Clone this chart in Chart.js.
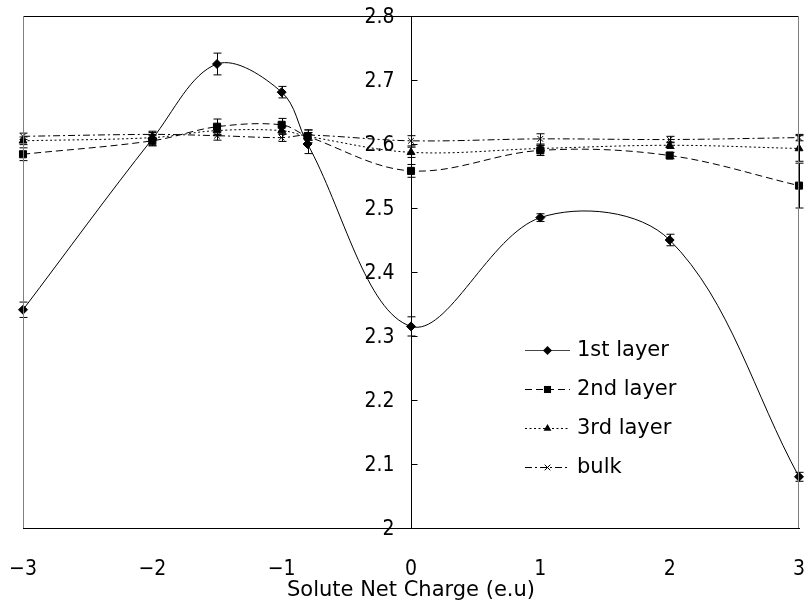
<!DOCTYPE html>
<html><head><meta charset="utf-8">
<script src="https://cdn.jsdelivr.net/npm/chart.js@4"></script>
<style>html,body{margin:0;padding:0;background:#fff}</style>
</head><body>
<canvas id="c" width="805" height="603"></canvas>
<script>
// ---- data ----
const xValues = [-3, -2, -1.5, -1, -0.8, 0, 1, 2, 3];
const seriesNames = ['1st layer', '2nd layer', '3rd layer', 'bulk'];
const layer1 = [2.341, 2.608, 2.725, 2.681, 2.600, 2.315, 2.485, 2.450, 2.080];
const layer1Err = [0.012, 0.010, 0.017, 0.009, 0.015, 0.015, 0.006, 0.009, 0.007];
const layer2 = [2.584, 2.605, 2.627, 2.630, 2.612, 2.558, 2.590, 2.582, 2.535];
const layer2Err = [0.010, 0.008, 0.012, 0.010, 0.010, 0.010, 0.008, 0.005, 0.035];
const layer3 = [2.605, 2.610, 2.621, 2.621, 2.612, 2.587, 2.593, 2.598, 2.593];
const layer3Err = [0.006, 0.005, 0.008, 0.006, 0.006, 0.008, 0.005, 0.005, 0.020];
const bulk = [2.612, 2.615, 2.613, 2.610, 2.614, 2.605, 2.608, 2.607, 2.610];
const bulkErr = [0.005, 0.005, 0.007, 0.006, 0.008, 0.008, 0.008, 0.005, 0.005];
const xTickValues = [-3, -2, -1, 0, 1, 2, 3];
const xTickLabels = ['\u22123', '\u22122', '\u22121', '0', '1', '2', '3'];
const yTickValues = [2, 2.1, 2.2, 2.3, 2.4, 2.5, 2.6, 2.7, 2.8];
const yTickLabels = ['2', '2.1', '2.2', '2.3', '2.4', '2.5', '2.6', '2.7', '2.8'];
const xTitle = 'Solute Net Charge (e.u)';

// ---- styles ----
const tickFamily = "'Liberation Sans Narrow', 'DejaVu Sans Condensed', 'Liberation Sans', sans-serif";
const tickFont = {family: tickFamily, size: 21, lineHeight: 1};
const textFamily = "'DejaVu Sans', sans-serif";
const styles = [
  {dash: [], point: 'rectRot', r: 4.5},
  {dash: [7, 4], point: 'rect', r: 5},
  {dash: [2, 2.5], point: 'triangle', r: 4.5},
  {dash: [7, 3, 2, 3], point: 'crossRot', r: 4}
];
const values = [layer1, layer2, layer3, bulk];
const errors = [layer1Err, layer2Err, layer3Err, bulkErr];

const datasets = values.map((vals, i) => ({
  label: seriesNames[i],
  data: xValues.map((x, k) => ({x: x, y: vals[k]})),
  borderColor: '#000', backgroundColor: '#000',
  borderWidth: 1, borderDash: styles[i].dash,
  pointStyle: styles[i].point, pointRadius: styles[i].r,
  pointBorderWidth: 1, pointBorderColor: '#000', pointBackgroundColor: '#000',
  tension: 0.35, fill: false, clip: false
}));

function drawMarker(ctx, style, x, y, r) {
  ctx.save();
  ctx.setLineDash([]);
  ctx.fillStyle = '#000'; ctx.strokeStyle = '#000'; ctx.lineWidth = 1;
  ctx.beginPath();
  if (style === 'rectRot') {
    ctx.moveTo(x, y - r); ctx.lineTo(x + r, y); ctx.lineTo(x, y + r); ctx.lineTo(x - r, y); ctx.closePath(); ctx.fill();
  } else if (style === 'rect') {
    const s = r * Math.SQRT1_2; ctx.rect(x - s, y - s, 2 * s, 2 * s); ctx.fill();
  } else if (style === 'triangle') {
    ctx.moveTo(x, y - r); ctx.lineTo(x + r * 0.87, y + r * 0.5); ctx.lineTo(x - r * 0.87, y + r * 0.5); ctx.closePath(); ctx.fill();
  } else {
    const s = r * Math.SQRT1_2;
    ctx.moveTo(x - s, y - s); ctx.lineTo(x + s, y + s); ctx.moveTo(x + s, y - s); ctx.lineTo(x - s, y + s); ctx.stroke();
  }
  ctx.restore();
}

const extras = {
  id: 'extras',
  afterDatasetsDraw(chart) {
    const {ctx, scales: {x, y}} = chart;
    ctx.save();
    ctx.strokeStyle = '#000'; ctx.lineWidth = 1; ctx.setLineDash([]);
    values.forEach((vals, i) => {
      vals.forEach((v, k) => {
        const px = Math.round(x.getPixelForValue(xValues[k])) + 0.5;
        const y1 = y.getPixelForValue(v + errors[i][k]);
        const y2 = y.getPixelForValue(v - errors[i][k]);
        ctx.beginPath();
        ctx.moveTo(px, y1); ctx.lineTo(px, y2);
        ctx.moveTo(px - 4, y1); ctx.lineTo(px + 4, y1);
        ctx.moveTo(px - 4, y2); ctx.lineTo(px + 4, y2);
        ctx.stroke();
      });
    });
    ctx.restore();
  },
  afterDraw(chart) {
    const {ctx, chartArea: a, scales: {x, y}} = chart;
    ctx.save();
    ctx.setLineDash([]); ctx.lineWidth = 1;
    // plot frame
    ctx.strokeStyle = '#000';
    ctx.beginPath(); ctx.moveTo(a.left, Math.round(a.top) + 0.5); ctx.lineTo(a.right, Math.round(a.top) + 0.5); ctx.stroke();
    ctx.strokeStyle = '#808080';
    ctx.beginPath();
    ctx.moveTo(Math.round(a.left) + 0.5, a.top); ctx.lineTo(Math.round(a.left) + 0.5, a.bottom);
    ctx.moveTo(Math.round(a.right) - 0.5, a.top); ctx.lineTo(Math.round(a.right) - 0.5, a.bottom);
    ctx.stroke();
    // y tick marks (right of the axis) and labels (left of the axis)
    ctx.strokeStyle = '#000';
    const ax = Math.round(x.getPixelForValue(0)) + 0.5;
    ctx.beginPath();
    yTickValues.forEach(v => {
      const py = Math.round(y.getPixelForValue(v)) + 0.5;
      ctx.moveTo(ax, py); ctx.lineTo(ax + 6, py);
    });
    ctx.stroke();
    ctx.font = '21px ' + tickFamily;
    ctx.textAlign = 'right'; ctx.textBaseline = 'middle'; ctx.fillStyle = '#000';
    yTickValues.forEach((v, i) => {
      ctx.fillText(yTickLabels[i], ax - 17, y.getPixelForValue(v) + 2);
    });
    // legend
    const lx0 = 525, lx1 = 570, ly0 = 350, dy = 39;
    ctx.font = '21px ' + textFamily;
    ctx.textAlign = 'left'; ctx.textBaseline = 'middle';
    seriesNames.forEach((name, i) => {
      const ly = Math.round(ly0 + i * dy) + 0.5;
      ctx.save();
      ctx.strokeStyle = i === 0 ? '#444' : '#000';
      ctx.setLineDash(styles[i].dash);
      ctx.beginPath(); ctx.moveTo(lx0, ly); ctx.lineTo(lx1, ly); ctx.stroke();
      ctx.restore();
      drawMarker(ctx, styles[i].point, (lx0 + lx1) / 2, ly, styles[i].r);
      ctx.fillText(name, lx1 + 7, ly);
    });
    ctx.restore();
  }
};

new Chart(document.getElementById('c'), {
  type: 'line',
  data: {datasets: datasets},
  options: {
    responsive: false, animation: false,
    layout: {padding: {left: 23, right: 6, top: 16, bottom: 0}},
    plugins: {legend: {display: false}, tooltip: {enabled: false}},
    scales: {
      x: {
        type: 'linear', min: -3, max: 3, position: 'bottom',
        afterBuildTicks: axis => { axis.ticks = xTickValues.map(v => ({value: v})); },
        afterFit: axis => { axis.height = 75; axis.paddingLeft = 0; axis.paddingRight = 0; },
        ticks: {
          callback: v => xTickLabels[xTickValues.indexOf(v)],
          font: tickFont, color: '#000', padding: 23, maxRotation: 0, autoSkip: false
        },
        grid: {display: false},
        border: {display: true, color: '#000', width: 1},
        title: {display: true, text: xTitle, color: '#000',
          font: {family: textFamily, size: 21, lineHeight: 1}, padding: {top: 0, bottom: 2}}
      },
      y: {
        type: 'linear', min: 2, max: 2.8, position: {x: 0},
        afterBuildTicks: axis => { axis.ticks = yTickValues.map(v => ({value: v})); },
        afterFit: axis => { axis.width = 0; axis.paddingTop = 0; axis.paddingBottom = 0; },
        ticks: {display: false},
        grid: {display: false},
        border: {display: true, color: '#000', width: 1}
      }
    }
  },
  plugins: [extras]
});
</script>
</body></html>
